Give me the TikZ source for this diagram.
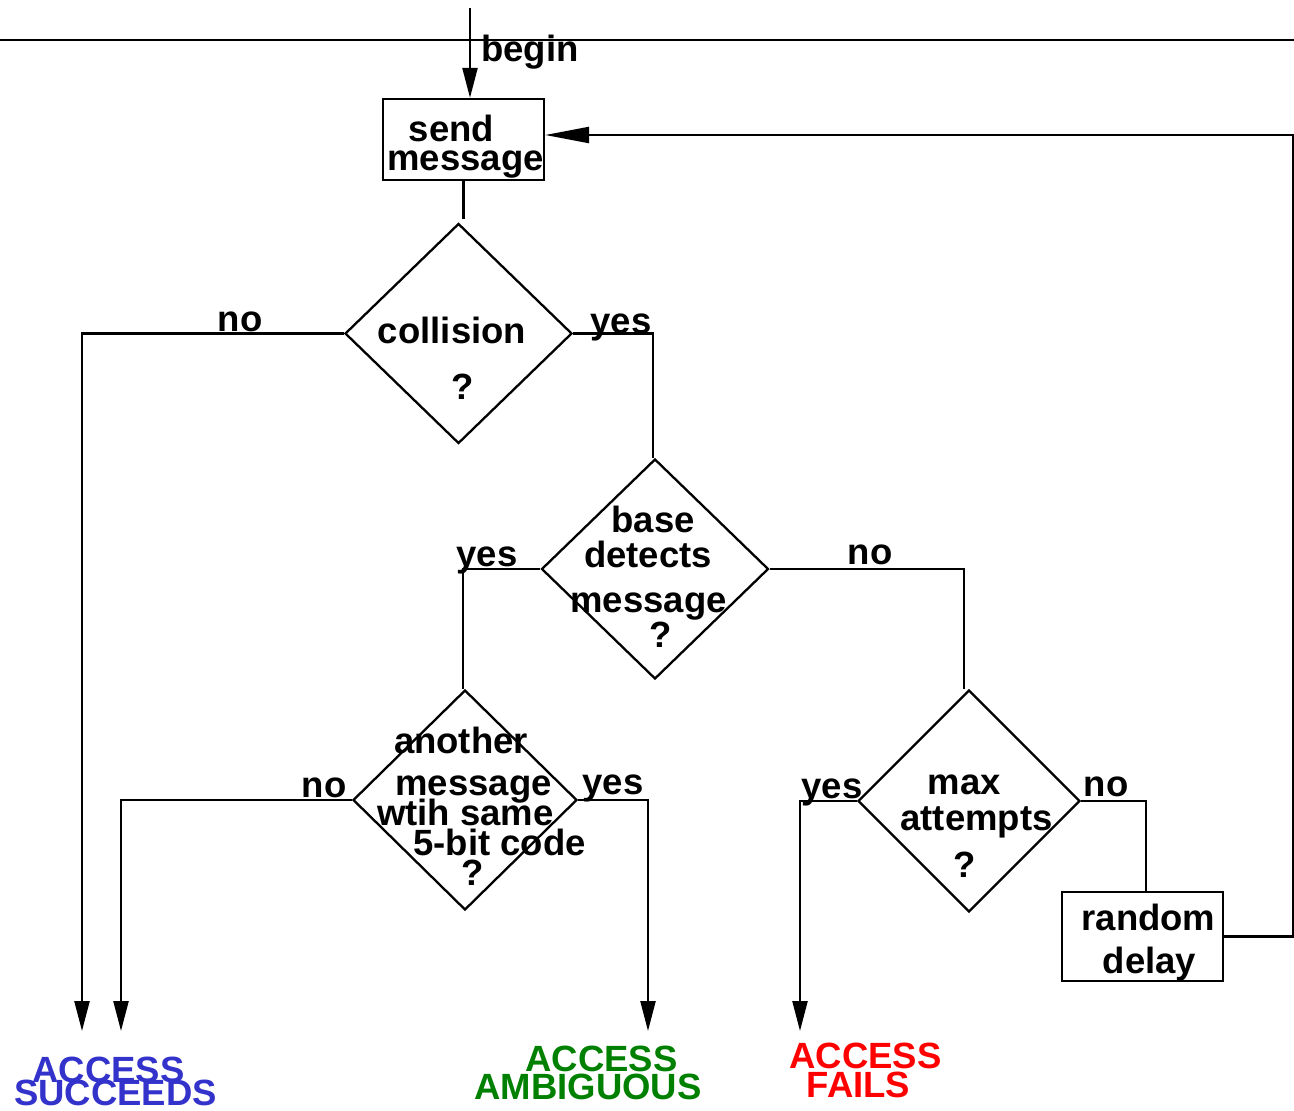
\documentclass[tikz,border=0pt]{standalone}
\usepackage{fontspec}
\setmainfont{Liberation Sans}
\usetikzlibrary{shapes.geometric,arrows.meta,calc}
\definecolor{okblue}{RGB}{51,51,204}
\definecolor{okgreen}{RGB}{0,128,0}
\definecolor{failred}{RGB}{255,0,0}
\begin{document}
\begin{tikzpicture}[x=1pt,y=-1pt,
  line width=2.3pt,
  txt/.style={inner sep=0pt,anchor=base,font=\bfseries\fontsize{36.5}{36.5}\selectfont},
  decision/.style={diamond,draw,inner sep=0pt},
  proc/.style={rectangle,draw,inner sep=0pt},
  arr/.style={-{Triangle[length=30pt,width=15pt]}},
  backarr/.style={-{Triangle[length=44pt,width=16pt]}}]
\useasboundingbox (0,0) rectangle (1294,1111);

% header rule and entry point
\coordinate (ruleL) at (0,40);
\coordinate (ruleR) at (1294,40);
\draw[line width=2pt] (ruleL) -- (ruleR);
\coordinate (start) at (470,8);

% boxes and decisions
\node[proc,minimum width=161pt,minimum height=81pt] (send) at (463.5,139.5) {};
\node[decision,minimum width=227pt,minimum height=220pt] (col) at (458.5,333.5) {};
\node[decision,minimum width=227pt,minimum height=220pt] (base) at (655,569) {};
\node[decision,minimum width=224pt,minimum height=220pt] (anoth) at (465,800) {};
\node[decision,minimum width=222pt,minimum height=222pt] (maxa) at (969,801) {};
\node[proc,minimum width=161pt,minimum height=89pt] (delay) at (1142.5,936.5) {};

% texts
\node[txt,anchor=base west] (tbegin) at (480,61) {begin};
\node[txt] (tsend1) at (451.5,141) {send};
\node[txt] (tsend2) at (465.5,170) {message};
\node[txt] (tcol1) at (452,343) {collision};
\node[txt] (tcol2) at (463,399) {?};
\node[txt] (tbase1) at (653,532) {base};
\node[txt] (tbase2) at (648,567) {detects};
\node[txt] (tbase3) at (648.5,612) {message};
\node[txt] (tbase4) at (661,647) {?};
\node[txt] (tan1) at (461,753) {another};
\node[txt] (tan2) at (473.5,795) {message};
\node[txt] (tan3) at (465.5,825) {wtih same};
\node[txt] (tan4) at (499.5,855) {5-bit code};
\node[txt] (tan5) at (472.5,885) {?};
\node[txt] (tmax1) at (964.5,794) {max};
\node[txt] (tmax2) at (976.5,830) {attempts};
\node[txt] (tmax3) at (965,877) {?};
\node[txt] (tdel1) at (1148.5,930) {random};
\node[txt] (tdel2) at (1149.5,973) {delay};

% branch labels
\node[txt] (lcolno) at (240,331) {no};
\node[txt] (lcolyes) at (621,333) {yes};
\node[txt] (lbaseyes) at (487,566) {yes};
\node[txt] (lbaseno) at (870,564) {no};
\node[txt] (lanno) at (324,797) {no};
\node[txt] (lanyes) at (613,794) {yes};
\node[txt] (lmaxyes) at (832,798) {yes};
\node[txt] (lmaxno) at (1106,796) {no};

% outcomes
\node[txt,text=okblue] (succ1) at (108.5,1082) {ACCESS};
\node[txt,text=okblue] (succ2) at (115.5,1105) {SUCCEEDS};
\node[txt,text=okgreen] (amb1) at (601.5,1071) {ACCESS};
\node[txt,text=okgreen] (amb2) at (588,1099) {AMBIGUOUS};
\node[txt,text=failred] (fail1) at (865.5,1068) {ACCESS};
\node[txt,text=failred] (fail2) at (858.5,1097) {FAILS};

% arrow end points above the outcomes
\coordinate (endA) at (82,1031);
\coordinate (endB) at (121,1031);
\coordinate (endC) at (648,1031);
\coordinate (endD) at (800,1031);
\coordinate (loopR) at (1293,0);

% connectors
\draw[arr] (start) -- (start |- send.north);
\draw[shorten >=3pt] (send.south) -- (send.south |- col.north);
\draw[arr] (col.west) -| (endA);
\draw (col.east) -| ($(base.north)+(-2,0)$);
\draw (base.west) -| ($(anoth.north)+(-2,0)$);
\draw (base.east) -| ($(maxa.north)+(-5,0)$);
\draw[arr] (anoth.west) -| (endB);
\draw[arr] (anoth.east) -| (endC);
\draw[arr] (maxa.west) -| (endD);
\draw (maxa.east) -| ($(delay.north)+(3.5,0)$);
\draw[backarr] (delay.east) -- (delay.east -| loopR) |- ($(send.east)+(0,-4.5)$);
\end{tikzpicture}
\end{document}
